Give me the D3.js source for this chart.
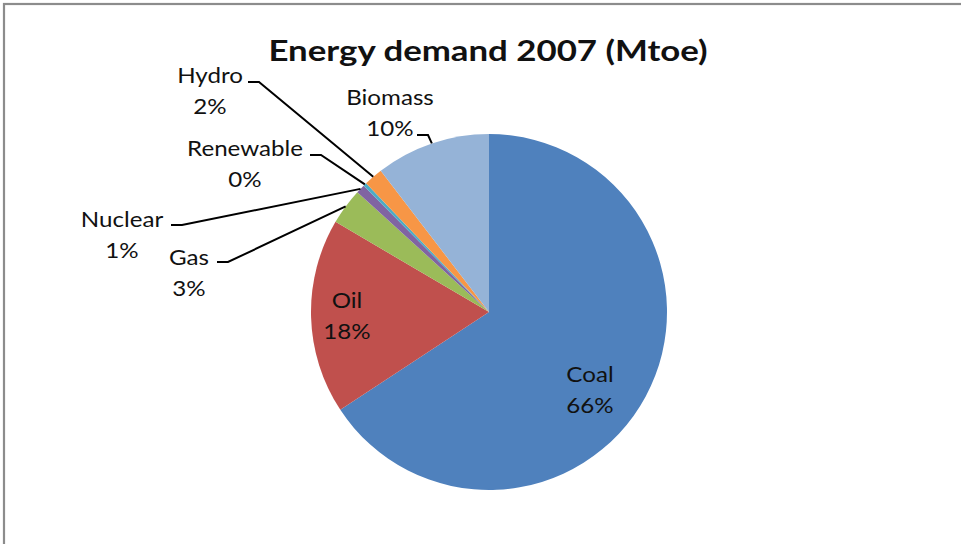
<!DOCTYPE html>
<html>
<head>
<meta charset="utf-8">
<script src="https://cdn.jsdelivr.net/npm/d3@7/dist/d3.min.js"></script>
<style>
  html, body { margin: 0; padding: 0; background: #fff; }
  svg { display: block; }
  text { font-family: Lato, "Open Sans", sans-serif; fill: #111; }
</style>
</head>
<body>
<svg id="chart" width="961" height="544"></svg>
<script>
// Energy demand 2007, Mtoe by source (clockwise from 12 o'clock)
const categories = ["Coal", "Oil", "Gas", "Nuclear", "Renewable", "Hydro", "Biomass"];
const demandMtoe = [1295, 349, 65, 16, 6, 34, 205];
const sliceColors = ["#4F81BD", "#C0504D", "#9BBB59", "#8064A2", "#4BACC6", "#F79646", "#95B3D7"];
const titleText = "Energy demand 2007 (Mtoe)";

// Label placement: centre x, baseline of first line, and where a leader line leaves the label
const labelLayout = {
  Coal:      { x: 590, y: 382 },
  Oil:       { x: 347, y: 308 },
  Gas:       { x: 189, y: 265, lead: [217, 262] },
  Nuclear:   { x: 122, y: 227, lead: [171, 225] },
  Renewable: { x: 245, y: 156, lead: [310, 155] },
  Hydro:     { x: 210, y: 83,  lead: [248, 82] },
  Biomass:   { x: 390, y: 105, lead: [417, 135] }
};

const svg = d3.select("#chart");
const W = 961, H = 544;
const cx = 489, cy = 312, R = 178;
const lineGap = 31;
const stretch = 1.15;   // wide, Calibri-like label set

// chart frame (top and left edges visible)
svg.append("rect")
  .attr("x", 4).attr("y", 4)
  .attr("width", W + 20).attr("height", H + 20)
  .attr("fill", "#fff")
  .attr("stroke", "#8c8c8c").attr("stroke-width", 2.2);

svg.append("g")
  .attr("transform", `translate(488,61) scale(1.2,1)`)
  .append("text")
  .attr("text-anchor", "middle")
  .style("font-size", "29px").style("font-weight", "bold")
  .text(titleText);

const data = categories.map((c, i) => ({ name: c, value: demandMtoe[i], color: sliceColors[i] }));
const total = d3.sum(demandMtoe);

const pie = d3.pie().value(d => d.value).sort(null);
const arcs = pie(data);
const arc = d3.arc().innerRadius(0).outerRadius(R);

const g = svg.append("g").attr("transform", `translate(${cx},${cy})`);
g.selectAll("path.slice")
  .data(arcs)
  .join("path")
  .attr("class", "slice")
  .attr("d", arc)
  .attr("fill", d => d.data.color);

// leader lines for the small outside slices
arcs.forEach(a => {
  const L = labelLayout[a.data.name];
  if (!L.lead) return;
  const mid = (a.startAngle + a.endAngle) / 2;
  const px = cx + R * Math.sin(mid), py = cy - R * Math.cos(mid);
  const [lx, ly] = L.lead;
  const pts = [[lx, ly], [lx + 11, ly], [px, py]];
  svg.append("path")
    .attr("d", d3.line()(pts))
    .attr("fill", "none")
    .attr("stroke", "#000")
    .attr("stroke-width", 2);
});

// category + percentage labels
arcs.forEach(a => {
  const L = labelLayout[a.data.name];
  const pct = Math.round(a.data.value / total * 100) + "%";
  const t = svg.append("g")
    .attr("transform", `translate(${L.x},${L.y}) scale(${stretch},1)`)
    .append("text")
    .attr("text-anchor", "middle")
    .style("font-size", "21px");
  t.append("tspan").attr("x", 0).attr("y", 0).text(a.data.name);
  t.append("tspan").attr("x", 0).attr("y", lineGap).text(pct);
});
</script>
</body>
</html>
